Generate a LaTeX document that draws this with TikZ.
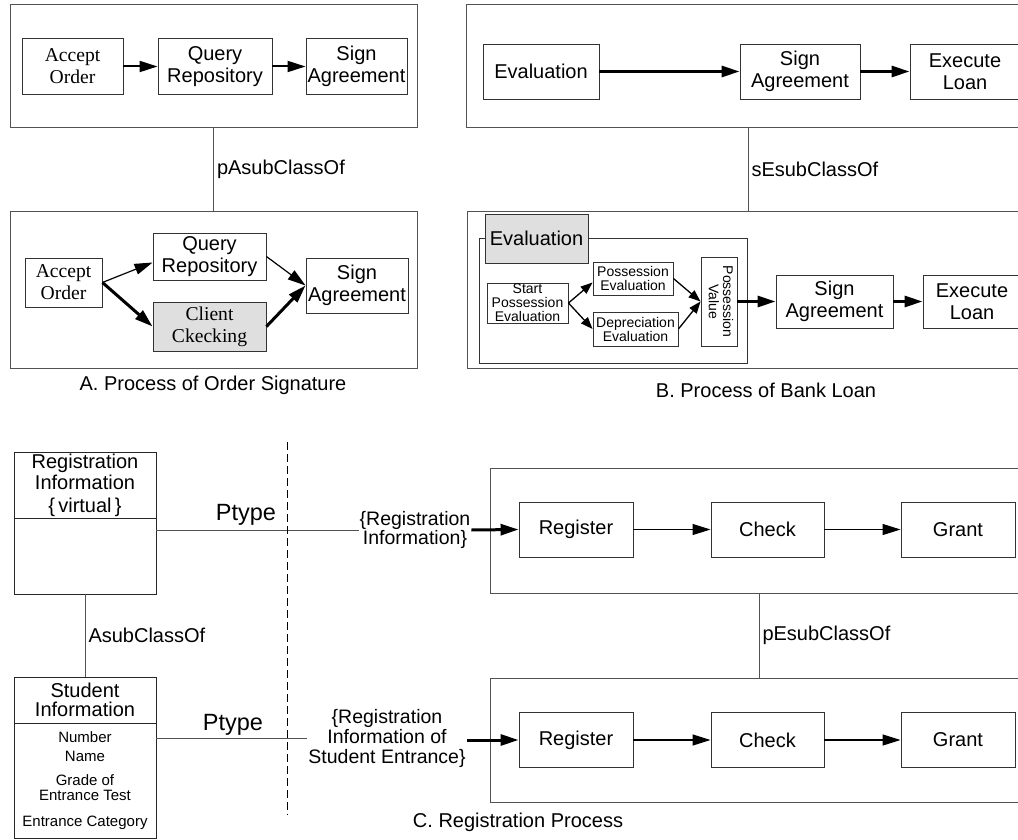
\documentclass[tikz,border=0pt]{standalone}
\usepackage{fontspec}
\usepackage{graphicx}
\setmainfont{Liberation Sans}
\newfontfamily\timesfam{Liberation Serif}
\usetikzlibrary{arrows.meta}

% type sizes (1pt = 1 unit of the drawing)
\newcommand\fmain{\fontsize{20}{21.5}\selectfont}
\newcommand\fserif{\timesfam\fontsize{19.6}{22}\selectfont}
\newcommand\fsmall{\fontsize{14}{14}\selectfont}
\newcommand\fattr{\fontsize{15}{15}\selectfont}
\newcommand\fbig{\fontsize{23.5}{26}\selectfont}

\begin{document}
\begin{tikzpicture}[x=1pt,y=-1pt,
  panel/.style={draw=black!68, line width=1pt, inner sep=0pt},
  sbox/.style={draw=black!80, line width=0.9pt, fill=white, inner sep=1pt,
               align=center, font=\fmain},
  cbox/.style={draw=black!85, line width=0.9pt, fill=white, inner sep=1pt,
               align=center, font=\fmain},
  lbl/.style={font=\fmain, inner sep=3pt},
  link/.style={draw=black!68, line width=1pt},
  tipstyle/.style={-{Triangle[length=18pt,width=11pt]}},
  thinarr/.style={tipstyle, line width=1.2pt},
  midarr/.style={tipstyle, line width=2pt},
  thickarr/.style={tipstyle, line width=3pt},
  smallarr/.style={-{Triangle[length=12pt,width=9pt]}, line width=1.3pt},
  caption/.style={font=\fmain, inner sep=0pt}]

\useasboundingbox (0,0) rectangle (1018,840);
\clip (0,0) rectangle (1018,840);

% ---------------- A. Process of Order Signature ----------------
\node[panel, minimum width=407pt, minimum height=123pt] (Atop) at (213.5,66.5) {};
\node[sbox, font=\fserif, minimum width=101pt, minimum height=56pt] (accA) at (72.5,66.5) {Accept\\Order};
\node[sbox, minimum width=114pt, minimum height=56pt] (qryA) at (215,66.5) {Query\\Repository};
\node[sbox, minimum width=101pt, minimum height=56pt] (sgnA) at (356.5,66.5) {Sign\\Agreement};
\draw[midarr] (accA) -- (qryA);
\draw[midarr] (qryA) -- (sgnA);

\node[panel, minimum width=407pt, minimum height=157pt] (Abot) at (213.5,289.5) {};
\draw[link] (Atop) -- (Abot) node[midway, right, lbl] {pAsubClassOf};

\node[sbox, font=\fserif, minimum width=77pt, minimum height=49pt] (accB) at (63.5,282.5) {Accept\\Order};
\node[sbox, minimum width=113pt, minimum height=47pt] (qryB) at (209.5,256.5) {Query\\Repository};
\node[sbox, font=\fserif, fill=gray!25, minimum width=113pt, minimum height=49pt] (cliB) at (209.5,326.5) {Client\\Ckecking};
\node[sbox, minimum width=102pt, minimum height=55pt] (sgnB) at (357,285.5) {Sign\\Agreement};
\draw[thinarr] (accB.east) -- ([yshift=-6pt]qryB.west);
\draw[thickarr] (accB.east) -- (cliB.west);
\draw[thinarr] (qryB.east) -- (sgnB.west);
\draw[thickarr] (cliB.east) -- (sgnB.west);

\node[caption] (capA) at (213,385) {A. Process of Order Signature};

% ---------------- B. Process of Bank Loan ----------------
\node[panel, minimum width=564pt, minimum height=123pt] (Btop) at (748,66.5) {};
\node[sbox, minimum width=116pt, minimum height=55pt] (evT) at (541,71.5) {Evaluation};
\node[sbox, minimum width=120pt, minimum height=55pt] (sgT) at (800,71.5) {Sign\\Agreement};
\node[sbox, minimum width=110pt, minimum height=55pt] (exT) at (965,71.5) {Execute\\Loan};
\draw[thickarr] (evT) -- (sgT);
\draw[thickarr] (sgT) -- (exT);

\node[panel, minimum width=562pt, minimum height=157pt] (Bbot) at (748,289.5) {};
\draw[link] (Btop) -- (Bbot) node[midway, right, lbl] {sEsubClassOf};

% composite activity "Evaluation"
\node[sbox, minimum width=268pt, minimum height=125pt] (evC) at (613,300.5) {};
\node[sbox, fill=gray!25, minimum width=103pt, minimum height=49pt] (evTab) at (536.5,238.5) {Evaluation};
\node[sbox, font=\fsmall, inner sep=0pt, minimum width=81pt, minimum height=40pt] (stPE) at (527.5,303) {Start\\Possession\\Evaluation};
\node[sbox, font=\fsmall, minimum width=80pt, minimum height=33pt] (poE) at (633,278.5) {Possession\\Evaluation};
\node[sbox, font=\fsmall, minimum width=85pt, minimum height=34pt] (dpE) at (635.5,329) {Depreciation\\Evaluation};
\node[sbox, font=\fsmall, minimum width=36pt, minimum height=89pt] (pV) at (719,301.5)
  {\rotatebox{-90}{\begin{tabular}{@{}c@{}}Possession\\Value\end{tabular}}};
\draw[smallarr] (stPE.east) -- ([yshift=-4pt]poE.west);
\draw[smallarr] (stPE.east) -- (dpE.west);
\draw[smallarr] (poE.east) -- (pV.west);
\draw[smallarr] (dpE.east) -- (pV.west);

\node[sbox, minimum width=117pt, minimum height=53pt] (sgB) at (834.5,301.5) {Sign\\Agreement};
\node[sbox, minimum width=98pt, minimum height=53pt] (exB) at (972,301.5) {Execute\\Loan};
\draw[thickarr] (pV) -- (sgB);
\draw[thickarr] (sgB) -- (exB);

\node[caption] (capB) at (766,390) {B. Process of Bank Loan};

% ---------------- C. Registration Process ----------------
% information classes
\node[cbox, minimum width=142pt, minimum height=66pt] (riH) at (85,485) {Registration\\Information\\[1pt]\{\,virtual\,\}};
\node[cbox, minimum width=142pt, minimum height=76pt] (riB) at (85,556) {};
\node[cbox, font=\fontsize{20}{19.5}\selectfont, minimum width=142pt, minimum height=46pt] (siH) at (85,700) {Student\\Information};
\node[cbox, font=\fattr, minimum width=142pt, minimum height=115pt] (siB) at (85,780.5)
  {Number\\[4pt]Name\\[9pt]Grade of\\Entrance Test\\[11pt]Entrance Category};
\draw[link] (riB) -- (siH) node[midway, right, lbl] {AsubClassOf};

% process types
\node[panel, minimum width=538pt, minimum height=125pt] (Ctop) at (759,530.5) {};
\node[sbox, minimum width=114pt, minimum height=55pt] (rg1) at (576,529.5) {Register};
\node[sbox, minimum width=113pt, minimum height=55pt] (ck1) at (767.5,529.5) {Check};
\node[sbox, minimum width=114pt, minimum height=55pt] (gr1) at (958,529.5) {Grant};
\draw[thinarr] (rg1) -- (ck1);
\draw[thinarr] (ck1) -- (gr1);

\node[panel, minimum width=538pt, minimum height=124pt] (Cbot) at (759,740) {};
\node[sbox, minimum width=114pt, minimum height=55pt] (rg2) at (576,740) {Register};
\node[sbox, minimum width=113pt, minimum height=55pt] (ck2) at (767.5,740) {Check};
\node[sbox, minimum width=114pt, minimum height=55pt] (gr2) at (958,740) {Grant};
\draw[thinarr] (rg2) -- (ck2);
\draw[thinarr] (ck2) -- (gr2);
\draw[link] (Ctop) -- (Cbot) node[midway, right, lbl] {pEsubClassOf};

% typed inputs
\node[font=\fbig, inner sep=0pt] (pt1) at (246,515) {Ptype};
\node[font=\fbig, inner sep=0pt] (pt2) at (233,725) {Ptype};
\node[font=\fontsize{19.5}{19.5}\selectfont, align=center, inner sep=1pt] (ri1) at (415,530) {\{Registration\\Information\}};
\node[font=\fontsize{19.5}{20}\selectfont, align=center, inner sep=1pt] (ri2) at (387,738) {\{Registration\\Information of\\Student Entrance\}};
\draw[link] (riB.east |- ri1.west) -- (ri1.west);
\draw[link] (siB.east |- ri2.west) -- (ri2.west);
\draw[thickarr] (ri1.east) -- (rg1.west);
\draw[thickarr] (ri2.east |- rg2.west) -- (rg2.west);

% separator between information and process
\coordinate (dTop) at (287,442);
\coordinate (dBot) at (287,815);
\draw[black, line width=1pt, dash pattern=on 8pt off 4pt] (dTop) -- (dBot);

\node[caption] (capC) at (518,822) {C. Registration Process};
\end{tikzpicture}
\end{document}
